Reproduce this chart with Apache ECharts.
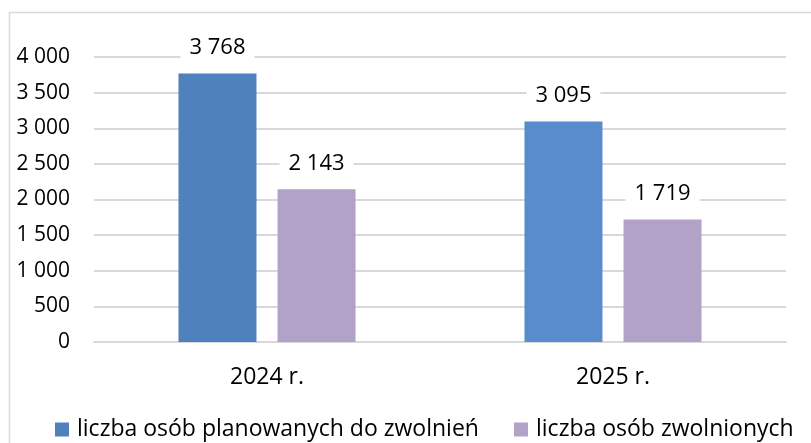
<!DOCTYPE html>
<html>
<head>
<meta charset="utf-8">
<script src="https://cdn.jsdelivr.net/npm/echarts@6/dist/echarts.min.js"></script>
<style>html,body{margin:0;padding:0;background:#fff}#c{width:811px;height:443px}</style>
</head>
<body>
<div id="c"></div>
<script>
const categories = ['2024 r.', '2025 r.'];
const seriesNames = ['liczba osób planowanych do zwolnień', 'liczba osób zwolnionych'];
const planned = [3768, 3095];
const dismissed = [2143, 1719];
const yTicks = [0, 500, 1000, 1500, 2000, 2500, 3000, 3500, 4000];

const FONT = 'Open Sans';
const fmt = v => String(v).replace(/\B(?=(\d{3})+(?!\d))/g, ' ');
const plannedColors = ['#4f81bd', '#588ccc'];

const chart = echarts.init(document.getElementById('c'), null, {renderer: 'canvas'});
chart.setOption({
  animation: false,
  textStyle: {fontFamily: FONT},
  graphic: [{
    type: 'rect', left: 7, top: 10, z: -10,
    shape: {x: 0, y: 0, width: 900, height: 500},
    style: {fill: 'none', stroke: '#d9d9d9', lineWidth: 1.5}
  }],
  grid: {left: 94, right: 25, top: 57, bottom: 101},
  legend: [
    {data: [seriesNames[0]], left: 50, top: 413, itemWidth: 14, itemHeight: 14, icon: 'rect',
     textStyle: {fontFamily: FONT, fontSize: 23, color: '#000', padding: [0, 0, 0, 3]}},
    {data: [seriesNames[1]], left: 509, top: 413, itemWidth: 14, itemHeight: 14, icon: 'rect',
     textStyle: {fontFamily: FONT, fontSize: 23, color: '#000', padding: [0, 0, 0, 3]}}
  ],
  xAxis: {
    type: 'category', data: categories,
    axisLine: {lineStyle: {color: '#d9d9d9', width: 2}},
    axisTick: {show: false},
    axisLabel: {fontFamily: FONT, fontSize: 23, color: '#000', margin: 24}
  },
  yAxis: {
    type: 'value', min: yTicks[0], max: yTicks[yTicks.length - 1], interval: 500,
    axisLine: {show: false}, axisTick: {show: false},
    splitLine: {lineStyle: {color: '#d9d9d9', width: 2}},
    axisLabel: {fontFamily: FONT, fontSize: 21, color: '#000', margin: 24, formatter: v => fmt(v)}
  },
  series: [
    {
      name: seriesNames[0], type: 'bar', barWidth: 78, barGap: '27%',
      itemStyle: {color: '#4f81bd'},
      data: planned.map((v, i) => ({value: v, itemStyle: {color: plannedColors[i]}})),
      label: {show: true, position: 'top', distance: 12, formatter: p => fmt(p.value),
        fontFamily: FONT, fontSize: 22, color: '#000', backgroundColor: '#fff', padding: [3, 9]}
    },
    {
      name: seriesNames[1], type: 'bar', barWidth: 78,
      itemStyle: {color: '#b3a2c7'},
      data: dismissed,
      label: {show: true, position: 'top', distance: 12, formatter: p => fmt(p.value),
        fontFamily: FONT, fontSize: 22, color: '#000', backgroundColor: '#fff', padding: [3, 9]}
    }
  ]
});
</script>
</body>
</html>
